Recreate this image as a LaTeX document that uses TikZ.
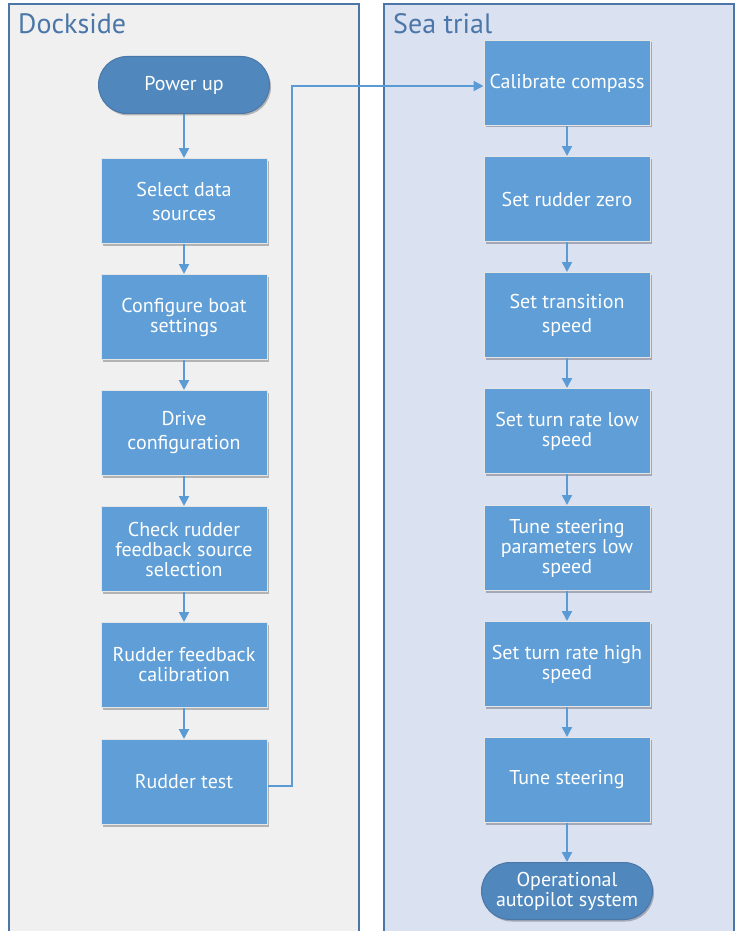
\documentclass[tikz,border=0pt]{standalone}
\usepackage{fontspec}
\setmainfont{PT Sans}
\usetikzlibrary{arrows.meta,shadows,shapes.misc}
\definecolor{laneA}{RGB}{240,240,240}
\definecolor{laneB}{RGB}{218,225,241}
\definecolor{laneline}{RGB}{74,118,168}
\definecolor{boxfill}{RGB}{95,158,214}
\definecolor{termfill}{RGB}{80,136,190}
\definecolor{conn}{RGB}{91,155,213}
\tikzset{
  stepbox/.style={rectangle, fill=boxfill, draw=white!80!gray, line width=1pt, minimum width=166pt, minimum height=85pt, align=center, text=white, font=\fontsize{20}{20}\selectfont, inner sep=2pt, drop shadow={shadow xshift=1.5pt, shadow yshift=-2pt, fill=black, opacity=0.25}},
  term/.style={rounded rectangle, fill=termfill, draw=laneline, line width=1pt, minimum width=175pt, minimum height=57pt, align=center, text=white, font=\fontsize{20}{20}\selectfont, inner sep=2pt, drop shadow={shadow xshift=1.5pt, shadow yshift=-2pt, fill=black, opacity=0.25}},
  lane/.style={draw=laneline, line width=2pt},
  lanetitle/.style={anchor=west, text=laneline, font=\fontsize{28}{32}\selectfont, inner sep=0pt},
  flow/.style={draw=conn, line width=2pt, -{Triangle[width=10pt,length=10pt]}}
}
\begin{document}
\begin{tikzpicture}[x=1pt,y=-1pt]
\useasboundingbox (0,0) rectangle (739,931);
\begin{scope}
\clip (0,0) rectangle (739,931);
\fill[laneA] (9,4) rectangle (359,940);
\draw[lane] (9,940) -- (9,4) -- (359,4) -- (359,940);
\fill[laneB] (384,4) rectangle (734,940);
\draw[lane] (384,940) -- (384,4) -- (734,4) -- (734,940);
\end{scope}
\node[lanetitle] (t1) at (18,24) {Dockside};
\node[lanetitle] (t2) at (393,24) {Sea trial};

% left column
\node[term] (p) at (184,85) {Power up};
\node[stepbox] (a1) at (184,201) {Select data\\[4pt]sources};
\node[stepbox] (a2) at (184,317) {Configure boat\\settings};
\node[stepbox] (a3) at (184,433) {Drive\\[4pt]configuration};
\node[stepbox] (a4) at (184,549) {Check rudder\\feedback source\\selection};
\node[stepbox] (a5) at (184,665) {Rudder feedback\\calibration};
\node[stepbox] (a6) at (184,782) {Rudder test};

% right column
\node[stepbox] (b1) at (567,83) {Calibrate compass};
\node[stepbox] (b2) at (567,199) {Set rudder zero};
\node[stepbox] (b3) at (567,315) {Set transition\\[4pt]speed};
\node[stepbox] (b4) at (567,431) {Set turn rate low\\speed};
\node[stepbox] (b5) at (567,548) {Tune steering\\parameters low\\speed};
\node[stepbox] (b6) at (567,664) {Set turn rate high\\speed};
\node[stepbox] (b7) at (567,780) {Tune steering};
\node[term] (q) at (567,891) {Operational\\autopilot system};

\draw[flow] (p) -- (a1);
\draw[flow] (a1) -- (a2);
\draw[flow] (a2) -- (a3);
\draw[flow] (a3) -- (a4);
\draw[flow] (a4) -- (a5);
\draw[flow] (a5) -- (a6);
\coordinate (r1) at (292,786);
\coordinate (r2) at (292,86);
\draw[flow] (a6.east |- r1) -- (r1) -- (r2) -- (b1.west |- r2);
\draw[flow] (b1) -- (b2);
\draw[flow] (b2) -- (b3);
\draw[flow] (b3) -- (b4);
\draw[flow] (b4) -- (b5);
\draw[flow] (b5) -- (b6);
\draw[flow] (b6) -- (b7);
\draw[flow] (b7) -- (q);
\end{tikzpicture}
\end{document}
